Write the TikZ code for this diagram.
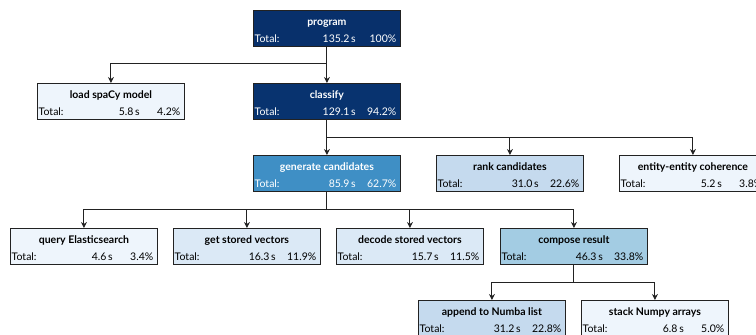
\documentclass[tikz,border=0pt]{standalone}
\usepackage{fontspec}
\setmainfont{Lato}
\usetikzlibrary{arrows.meta,calc}
\definecolor{c100}{HTML}{08306B}
\definecolor{c94}{HTML}{08336F}
\definecolor{c63}{HTML}{3F8FC5}
\definecolor{c34}{HTML}{A3CCE3}
\definecolor{c23}{HTML}{C5DAEE}
\definecolor{c12}{HTML}{DBE9F6}
\definecolor{c4}{HTML}{EEF5FC}
\definecolor{edge}{HTML}{222222}
\tikzset{
  pbox/.style={draw=edge, line width=0.8pt, anchor=north west, minimum width=147pt, minimum height=36pt, inner sep=0pt},
  ttl/.style={font=\bfseries\fontsize{10.5}{12}\selectfont, anchor=base, inner sep=0pt},
  val/.style={font=\fontsize{10.5}{12}\selectfont, inner sep=0pt},
  arr/.style={draw=edge, line width=0.9pt, -{Stealth[length=6pt,width=6pt]}},
}
% \profbox{name}{x}{y}{fill}{textcolor}{title}{time}{pct}
\newcommand{\profbox}[8]{%
  \node[pbox, fill=#4] (#1) at (#2pt,-#3pt) {};
  \node[ttl, text=#5] (#1t) at ($(#1.north)+(0,-15pt)$) {#6};
  \node[val, text=#5, anchor=base west] (#1l) at ($(#1.north west)+(1.5pt,-32pt)$) {Total:};
  \node[val, text=#5, anchor=base east] (#1s) at ($(#1.north west)+(103pt,-32pt)$) {#7};
  \node[val, text=#5, anchor=base east] (#1p) at ($(#1.north west)+(143.5pt,-32pt)$) {#8};
}
\begin{document}
\begin{tikzpicture}
\useasboundingbox (0,0) rectangle (756pt,-335pt);
\profbox{prog}{253}{10}{c100}{white}{program}{135.2\,s}{100\%}
\profbox{load}{37}{83}{c4}{black}{load spaCy model}{5.8\,s}{4.2\%}
\profbox{clas}{253}{83}{c94}{white}{classify}{129.1\,s}{94.2\%}
\profbox{gen}{253}{155}{c63}{white}{generate candidates}{85.9\,s}{62.7\%}
\profbox{rank}{436}{155}{c23}{black}{rank candidates}{31.0\,s}{22.6\%}
\profbox{ent}{619}{155}{c4}{black}{entity-entity coherence}{5.2\,s}{3.8\%}
\profbox{query}{10}{228}{c4}{black}{query Elasticsearch}{4.6\,s}{3.4\%}
\profbox{get}{173}{228}{c12}{black}{get stored vectors}{16.3\,s}{11.9\%}
\profbox{dec}{336}{228}{c12}{black}{decode stored vectors}{15.7\,s}{11.5\%}
\profbox{comp}{500}{228}{c34}{black}{compose result}{46.3\,s}{33.8\%}
\profbox{app}{418}{300}{c23}{black}{append to Numba list}{31.2\,s}{22.8\%}
\profbox{stack}{581}{300}{c4}{black}{stack Numpy arrays}{6.8\,s}{5.0\%}
\coordinate (progm) at ($(prog.south)+(0,-17pt)$);
\coordinate (clasm) at ($(clas.south)+(0,-18pt)$);
\coordinate (genm) at ($(gen.south)+(0,-18pt)$);
\coordinate (compm) at ($(comp.south)+(0,-18pt)$);
\draw[arr] (prog.south) -- (clas.north);
\draw[arr] (prog.south) -- (progm) -| (load.north);
\draw[arr] (clas.south) -- (gen.north);
\draw[arr] (clas.south) -- (clasm) -| (rank.north);
\draw[arr] (clas.south) -- (clasm) -| (ent.north);
\draw[arr] (gen.south) -- (genm) -| (query.north);
\draw[arr] (gen.south) -- (genm) -| (get.north);
\draw[arr] (gen.south) -- (genm) -| (dec.north);
\draw[arr] (gen.south) -- (genm) -| (comp.north);
\draw[arr] (comp.south) -- (compm) -| (app.north);
\draw[arr] (comp.south) -- (compm) -| (stack.north);
\end{tikzpicture}
\end{document}
